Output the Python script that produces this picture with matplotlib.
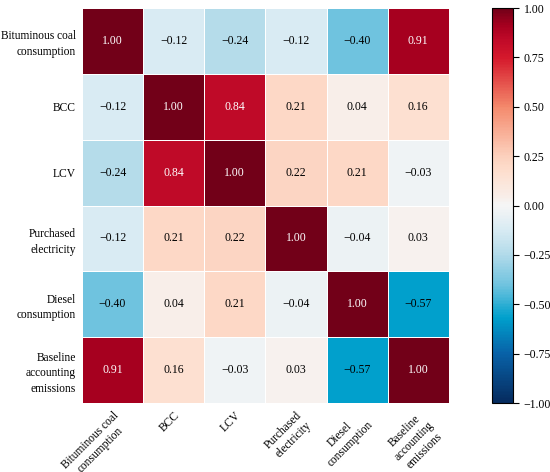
import numpy as np
import matplotlib
matplotlib.use("Agg")
import matplotlib.pyplot as plt
from matplotlib.colors import LinearSegmentedColormap, ListedColormap

# data
labels = ["Bituminous coal\nconsumption", "BCC", "LCV", "Purchased\nelectricity",
          "Diesel\nconsumption", "Baseline\naccounting\nemissions"]
corr = np.array([
    [1.00, -0.12, -0.24, -0.12, -0.40, 0.91],
    [-0.12, 1.00, 0.84, 0.21, 0.04, 0.16],
    [-0.24, 0.84, 1.00, 0.22, 0.21, -0.03],
    [-0.12, 0.21, 0.22, 1.00, -0.04, 0.03],
    [-0.40, 0.04, 0.21, -0.04, 1.00, -0.57],
    [0.91, 0.16, -0.03, 0.03, -0.57, 1.00],
])
cbar_ticks = [-1.0, -0.75, -0.5, -0.25, 0.0, 0.25, 0.5, 0.75, 1.0]

plt.rcParams['font.family'] = ['Liberation Serif', 'DejaVu Serif']
plt.rcParams['font.size'] = 8

# colormap: both halves hand-tuned to the picture
neg = LinearSegmentedColormap.from_list("neg", [
    (0.0, "#062b5e"), (0.25, "#0862a8"), (0.43, "#00a0cc"), (0.60, "#6fc3df"),
    (0.76, "#b4dbea"), (0.88, "#d8ebf3"), (1.0, "#f5f5f5")])
pos = LinearSegmentedColormap.from_list("pos", [
    (0.0, "#f5f5f5"), (0.04, "#f8eee9"), (0.16, "#fde0d0"), (0.25, "#fcd0bc"),
    (0.5, "#f4896c"), (0.75, "#d5192c"), (0.84, "#c00a28"), (0.91, "#a8001f"),
    (1.0, "#720018")])
cols = np.vstack([neg(np.linspace(0, 1, 128)), pos(np.linspace(0, 1, 128))])
cmap = ListedColormap(cols)

fig = plt.figure(figsize=(5.5, 4.72), dpi=100)
ax = fig.add_axes([0.149, 0.146, 0.667, 0.837])
cax = fig.add_axes([0.895, 0.146, 0.038, 0.837])

n = len(labels)
mesh = ax.pcolormesh(corr, cmap=cmap, vmin=-1, vmax=1, edgecolors="white", linewidth=0.7)
ax.set_xlim(0, n)
ax.set_ylim(n, 0)
for i in range(n):
    for j in range(n):
        v = corr[i, j]
        txt = f"{v:.2f}".replace("-", "\u2212")
        ax.text(j + 0.5, i + 0.5, txt, ha="center", va="center", fontsize=8.5,
                color="white" if v > 0.6 else "black")

ax.set_xticks(np.arange(n) + 0.5)
ax.set_yticks(np.arange(n) + 0.5)
ax.set_xticklabels(labels, rotation=45, ha="right", rotation_mode="anchor",
                   multialignment="center", linespacing=1.2, fontsize=8.3)
ax.set_yticklabels(labels, rotation=0, linespacing=1.4, fontsize=8.3)
ax.tick_params(length=0, pad=4.5)
for s in ax.spines.values():
    s.set_visible(False)

cb = fig.colorbar(mesh, cax=cax, ticks=cbar_ticks)
cb.ax.set_yticklabels([f"{t:.2f}".replace("-", "\u2212") for t in cbar_ticks])
cb.outline.set_linewidth(0.8)
cb.ax.tick_params(length=4, width=0.8, labelsize=8.5)

fig.savefig("out.png", dpi=100)
